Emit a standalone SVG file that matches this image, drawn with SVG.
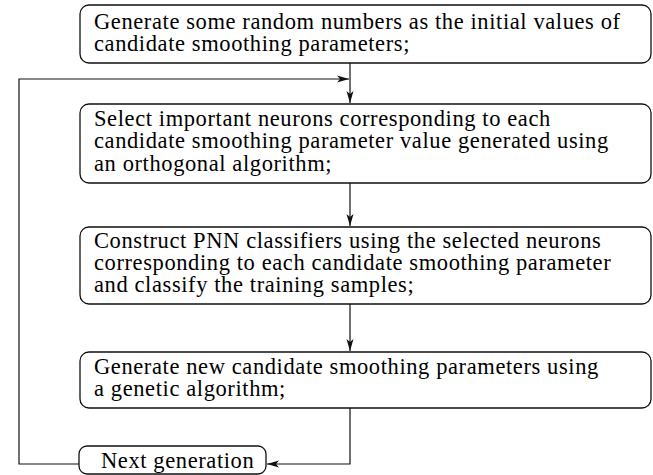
<svg xmlns="http://www.w3.org/2000/svg" width="653" height="475" viewBox="0 0 653 475">
<style>
.box{fill:#fff;stroke:#111;stroke-width:1.3}
.t{font-family:"Liberation Serif","Times New Roman",serif;font-size:22.5px;letter-spacing:0.6px;fill:#000}
.c{fill:none;stroke:#111;stroke-width:1.2}
</style>
<defs>
<marker id="ah" viewBox="0 0 12 8" refX="12" refY="4" markerWidth="12" markerHeight="8" markerUnits="userSpaceOnUse" orient="auto">
<path d="M0,0.5 L12,4 L0,7.5 L3,4 Z" fill="#111"/>
</marker>
</defs>
<rect width="653" height="475" fill="#fff"/>
<g id="connectors">
<path class="c" d="M350,63 V103" marker-end="url(#ah)"/>
<path class="c" d="M350,183 V226" marker-end="url(#ah)"/>
<path class="c" d="M350,304 V351" marker-end="url(#ah)"/>
<path class="c" d="M350,408 V464 H267" marker-end="url(#ah)"/>
<path class="c" d="M79,464 H19 V79 H349" marker-end="url(#ah)"/>
</g>
<g id="n1">
<rect class="box" x="80" y="5" width="571" height="58" rx="9"/>
<text class="t" x="94" y="29">Generate some random numbers as the initial values of</text>
<text class="t" x="94" y="51">candidate smoothing parameters;</text>
</g>
<g id="n2">
<rect class="box" x="80" y="104" width="571" height="79" rx="9"/>
<text class="t" x="94" y="126">Select important neurons corresponding to each</text>
<text class="t" x="94" y="148">candidate smoothing parameter value generated using</text>
<text class="t" x="94" y="171">an orthogonal algorithm;</text>
</g>
<g id="n3">
<rect class="box" x="80" y="227" width="571" height="77" rx="9"/>
<text class="t" x="94" y="248">Construct PNN classifiers using the selected neurons</text>
<text class="t" x="94" y="270">corresponding to each candidate smoothing parameter</text>
<text class="t" x="94" y="292">and classify the training samples;</text>
</g>
<g id="n4">
<rect class="box" x="80" y="352" width="571" height="56" rx="9"/>
<text class="t" x="94" y="374">Generate new candidate smoothing parameters using</text>
<text class="t" x="94" y="396">a genetic algorithm;</text>
</g>
<g id="n5">
<rect class="box" x="79" y="446" width="187" height="28" rx="8"/>
<text class="t" x="101" y="468">Next generation</text>
</g>
</svg>
